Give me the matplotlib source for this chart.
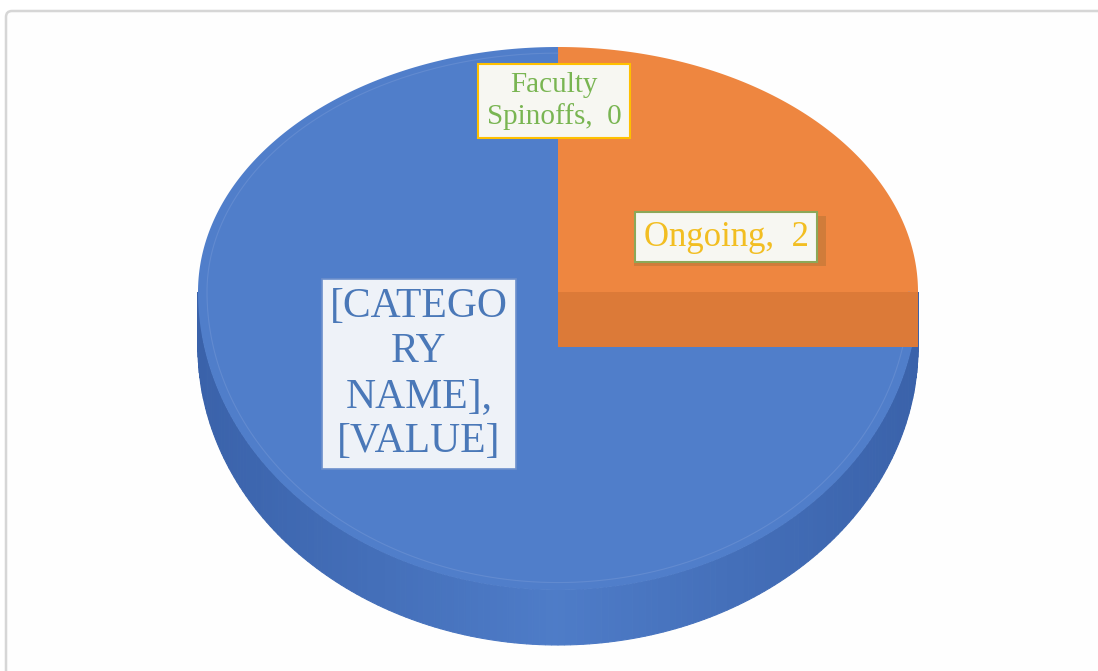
import numpy as np
import matplotlib.pyplot as plt
from matplotlib.patches import Polygon, FancyBboxPatch

# data
categories = ['Faculty Spinoffs', 'Ongoing', '[CATEGORY NAME]']
values = [0, 2, 6]
label_texts = ['Faculty\nSpinoffs,  0', 'Ongoing,  2', '[CATEGO\nRY\nNAME],\n[VALUE]']

top_colors = ['#70AD47', '#EE8640', '#507ECA']
cut_colors = ['#5E9A3A', '#DC7A38', '#3F6AB2']

# geometry of the 3d pie in pixel space
cx, cy = 558, 292
a, b_up, b_dn = 360, 245, 298
depth = 55


def rim(t):
    t = np.radians(t)
    b = np.where(np.sin(t) > 0, b_up, b_dn)
    return cx + a * np.cos(t), cy - b * np.sin(t)


fig = plt.figure(figsize=(10.98, 6.71), dpi=100)
ax = fig.add_axes([0, 0, 1, 1])
ax.set_xlim(0, 1098)
ax.set_ylim(671, 0)
ax.axis('off')

# chart frame
frame = FancyBboxPatch((6, 11), 1120, 700, boxstyle='round,pad=0,rounding_size=6',
                       fc='#FEFEFE', ec='#D6D6D6', lw=1.8, zorder=0)
ax.add_patch(frame)

# angles: start at 12 o'clock, clockwise
total = sum(values)
starts, ends = [], []
ang = 90.0
for v in values:
    starts.append(ang)
    ang -= 360.0 * v / total
    ends.append(ang)

# side wall (front half), shaded in strips
ts = np.linspace(0, -180, 181)
for k in range(180):
    t0, t1 = ts[k], ts[k + 1]
    x0, y0 = rim(t0)
    x1, y1 = rim(t1)
    s = 1 - abs(np.cos(np.radians(t0)))
    col = np.array([0x3A, 0x62, 0xAA]) * (1 - s) + np.array([0x4E, 0x7C, 0xC8]) * s
    col = col / 255
    ax.add_patch(Polygon([(x0, y0), (x1, y1), (x1, y1 + depth), (x0, y0 + depth)],
                         closed=True, fc=col, ec=col, lw=0.8, zorder=1))

# top faces
for i, v in enumerate(values):
    if v == 0:
        continue
    tt = np.linspace(starts[i], ends[i], 300)
    xs, ys = rim(tt)
    pts = [(cx, cy)] + list(zip(xs, ys))
    ax.add_patch(Polygon(pts, closed=True, fc=top_colors[i], ec='none', zorder=2))

# faint rim highlight on top face
tt = np.linspace(-270, 0, 400)
xs, ys = rim(tt)
ax.plot(cx + (xs - cx) * 0.975, cy + (ys - cy) * 0.975, color='#6E93D4', lw=0.8,
        alpha=0.6, zorder=3)

# visible cut face of the slice ending at 3 o'clock
for i, v in enumerate(values):
    if v == 0:
        continue
    if abs(ends[i]) < 1e-9:
        ex, ey = rim(ends[i])
        ax.add_patch(Polygon([(cx, cy), (ex, ey), (ex, ey + depth), (cx, cy + depth)],
                             closed=True, fc=cut_colors[i], ec='none', zorder=4))

# data labels
font = 'Liberation Serif'
ax.text(554, 101, label_texts[0], ha='center', va='center', fontsize=21, family=font,
        color='#79B552', linespacing=1.2, zorder=6,
        bbox=dict(boxstyle='square,pad=0.3', fc='#F7F7F2', ec='#FFC000', lw=1.5))
# shadow for the Ongoing label
ax.add_patch(Polygon([(634, 216), (826, 216), (826, 266), (634, 266)], closed=True,
                     fc='#9A6A30', alpha=0.35, ec='none', zorder=5))
ax.text(726, 237, label_texts[1], ha='center', va='center', fontsize=25, family=font,
        color='#F2BE22', zorder=6,
        bbox=dict(boxstyle='square,pad=0.25', fc='#F7F7F2', ec='#8CA858', lw=1.5))
ax.text(419, 374, label_texts[2], ha='center', va='center', fontsize=30, family=font,
        color='#4A78B8', linespacing=1.22, zorder=6,
        bbox=dict(boxstyle='square,pad=0.2', fc='#EEF2F8', ec='#6C8FCC', lw=1.2))

fig.savefig('out.png', dpi=100)
